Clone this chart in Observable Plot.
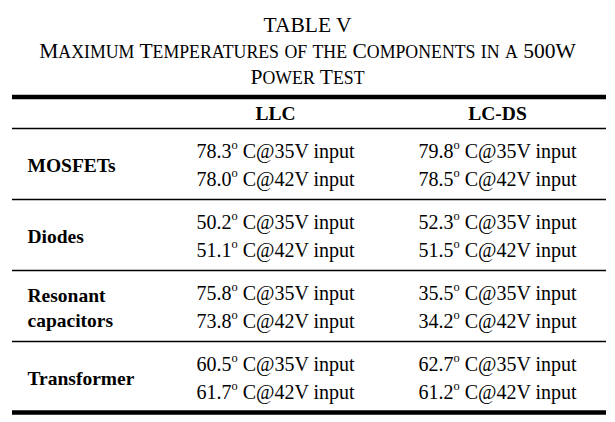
<!DOCTYPE html>
<html><head><meta charset="utf-8">
<script src="https://cdn.jsdelivr.net/npm/d3@7"></script>
<script src="https://cdn.jsdelivr.net/npm/@observablehq/plot@0.6"></script>
<style>
html,body{margin:0;padding:0;background:#fff;}
body{width:615px;height:422px;overflow:hidden;font-family:"Liberation Serif","Times New Roman",serif;color:#000;}
#title{height:90px;box-sizing:border-box;padding-top:13px;text-align:center;font-size:21.5px;line-height:25.5px;}
#title .sc{font-size:17.8px;}
</style></head>
<body>
<div id="title"></div>
<div id="chart"></div>
<script>
// ---- data ----
const tableLabel = "TABLE V";
const caption = ["Maximum Temperatures of the Components in a 500W", "Power Test"];
const columns = ["LLC", "LC-DS"];
const components = ["MOSFETs", "Diodes", "Resonant\ncapacitors", "Transformer"];
const inputs = ["35V", "42V"];
const llcTemps = [[78.3, 78.0], [50.2, 51.1], [75.8, 73.8], [60.5, 61.7]];
const lcdsTemps = [[79.8, 78.5], [52.3, 51.5], [35.5, 34.2], [62.7, 61.2]];

// ---- title (small caps built from mixed-case caption) ----
const titleEl = document.getElementById("title");
function smallCaps(s) {
  return s.replace(/([a-z]+)/g, m => `<span class="sc">${m.toUpperCase()}</span>`);
}
titleEl.innerHTML = `<div>${tableLabel}</div>` + caption.map(l => `<div>${smallCaps(l)}</div>`).join("");

// ---- layout (svg pixels) ----
const H = 332;
const topRuleY = 6.5, headerY = 29.3, headRuleY = 38, groupH = 71, firstLine = 29, lineH = 28.5;

const cells = [];
components.forEach((c, i) => {
  inputs.forEach((inp, j) => {
    const y = headRuleY + i * groupH + firstLine + j * lineH;
    cells.push({col: "LLC", y, text: `${llcTemps[i][j].toFixed(1)}° C@${inp} input`});
    cells.push({col: "LC-DS", y, text: `${lcdsTemps[i][j].toFixed(1)}° C@${inp} input`});
  });
});
const labels = components.map((c, i) => {
  const n = c.split("\n").length;
  const base = headRuleY + i * groupH + firstLine;
  return {text: c, y: n > 1 ? base + lineH - 1 : base + lineH / 2 + 0.3};
});
const rules = [{y: topRuleY, w: 4.7}, {y: headRuleY, w: 1.3}];
components.forEach((c, i) => rules.push({y: headRuleY + (i + 1) * groupH, w: i === components.length - 1 ? 4.7 : 1.3}));

const plot = Plot.plot({
  width: 615,
  height: H,
  marginLeft: 12,
  marginRight: 9,
  marginTop: 0,
  marginBottom: 0,
  style: {fontFamily: "'Liberation Serif','Times New Roman',serif", background: "white", color: "black"},
  x: {type: "band", domain: columns, range: [164, 608], padding: 0, axis: null},
  y: {type: "identity", axis: null},
  marks: [
    Plot.ruleY(rules, {y: "y", strokeWidth: "w", stroke: "black"}),
    Plot.text(columns, {x: d => d, y: () => headerY, text: d => d, fontWeight: "bold", fontSize: 19.5, lineAnchor: "bottom", fill: "black"}),
    Plot.text(labels, {y: "y", text: "text", frameAnchor: "left", dx: 15, textAnchor: "start", fontWeight: "bold", fontSize: 19.5, lineAnchor: "bottom", lineHeight: 25 / 19.5, fill: "black"}),
    Plot.text(cells, {x: "col", y: "y", text: "text", fontSize: 20, lineAnchor: "bottom", textAnchor: "middle", fill: "black"})
  ]
});
document.getElementById("chart").appendChild(plot);

// superscript "o" in place of the degree marker
plot.querySelectorAll("text").forEach(t => {
  if (t.children.length === 0 && t.textContent.includes("°")) {
    const [a, b] = t.textContent.split("°");
    t.textContent = "";
    const ns = "http://www.w3.org/2000/svg";
    const s1 = document.createElementNS(ns, "tspan"); s1.textContent = a;
    const s2 = document.createElementNS(ns, "tspan"); s2.textContent = "o";
    s2.setAttribute("font-size", "0.62em"); s2.setAttribute("dy", "-0.72em");
    const s3 = document.createElementNS(ns, "tspan"); s3.textContent = b;
    s3.setAttribute("dy", "0.446em");
    t.append(s1, s2, s3);
  }
});
</script>
</body></html>
